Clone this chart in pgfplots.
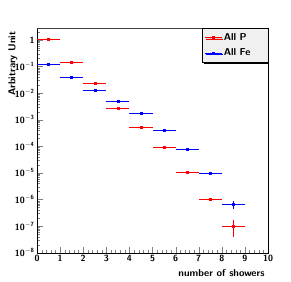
\documentclass[border=0pt]{standalone}
\usepackage{pgfplots}
\pgfplotsset{compat=1.18}
\usetikzlibrary{shadows}
\begin{document}
\begin{tikzpicture}[x=1pt,y=1pt]
\path[use as bounding box] (0,0) rectangle (291,281);
\begin{axis}[
  at={(37pt,28.3pt)}, anchor=south west,
  scale only axis, width=231pt, height=224.7pt,
  xmin=0, xmax=10, ymode=log, ymin=1e-8, ymax=2.8,
  xtick={0,1,2,3,4,5,6,7,8,9,10},
  minor x tick num=4,
  ytick={1e-8,1e-7,1e-6,1e-5,1e-4,1e-3,1e-2,1e-1,1},
  yticklabels={10\textsuperscript{$-$8},10\textsuperscript{$-$7},10\textsuperscript{$-$6},10\textsuperscript{$-$5},10\textsuperscript{$-$4},10\textsuperscript{$-$3},10\textsuperscript{$-$2},10\textsuperscript{$-$1},1},
  minor ytick={2e-8,3e-8,4e-8,5e-8,6e-8,7e-8,8e-8,9e-8,
    2e-7,3e-7,4e-7,5e-7,6e-7,7e-7,8e-7,9e-7,
    2e-6,3e-6,4e-6,5e-6,6e-6,7e-6,8e-6,9e-6,
    2e-5,3e-5,4e-5,5e-5,6e-5,7e-5,8e-5,9e-5,
    2e-4,3e-4,4e-4,5e-4,6e-4,7e-4,8e-4,9e-4,
    2e-3,3e-3,4e-3,5e-3,6e-3,7e-3,8e-3,9e-3,
    2e-2,3e-2,4e-2,5e-2,6e-2,7e-2,8e-2,9e-2,
    2e-1,3e-1,4e-1,5e-1,6e-1,7e-1,8e-1,9e-1,2},
  /pgf/number format/assume math mode=true,
  xticklabel style={font=\sffamily\bfseries\fontsize{9}{10}\selectfont, yshift=1pt},
  yticklabel style={font=\sffamily\bfseries\fontsize{9}{10}\selectfont, xshift=1pt},
  tick pos=left, tick align=inside,
  major tick length=6pt, minor tick length=3pt,
  xlabel={number of showers},
  ylabel={Arbitrary Unit},
  xlabel style={font=\sffamily\bfseries\fontsize{10}{12}\selectfont, at={(rel axis cs:1,0)}, anchor=north east, yshift=-13pt},
  ylabel style={font=\sffamily\bfseries\fontsize{10}{12}\selectfont, at={(axis description cs:-0.104,1)}, anchor=east},
  legend style={at={(rel axis cs:1,1)}, anchor=north east, fill=gray!12,
    font=\sffamily\bfseries\fontsize{10}{12}\selectfont, drop shadow={shadow xshift=1.5pt, shadow yshift=-1.5pt, fill=black, opacity=1},
    inner xsep=2pt, inner ysep=3pt, row sep=3pt, text width=40pt, cells={anchor=west}},
  legend image post style={sharp plot},
]
\addplot[red, only marks, mark=square*, mark size=1pt,
  error bars/.cd, x dir=both, x explicit, y dir=both, y explicit, error mark=none]
  coordinates {
  (-5,1) +- (0.5,0)
  (0.5,1.05) +- (0.5,0)
  (1.5,0.139) +- (0.5,0)
  (2.5,0.0246) +- (0.5,0)
  (3.5,0.00266) +- (0.5,0)
  (4.5,0.00051) +- (0.5,0)
  (5.5,9.1e-5) +- (0.5,0)
  (6.5,1.1e-5) +- (0.5,0)
  (7.5,1.04e-6) +- (0.5,0.05e-6)
  (8.5,1.03e-7) +- (0.5,0.64e-7)
  };
\addlegendentry{All P}
\addplot[blue, only marks, mark=square*, mark size=1pt,
  error bars/.cd, x dir=both, x explicit, y dir=both, y explicit, error mark=none]
  coordinates {
  (-5,1) +- (0.5,0)
  (0.5,0.123) +- (0.5,0)
  (1.5,0.038) +- (0.5,0)
  (2.5,0.0134) +- (0.5,0)
  (3.5,0.0049) +- (0.5,0)
  (4.5,0.0017) +- (0.5,0)
  (5.5,4.2e-4) +- (0.5,0)
  (6.5,7.6e-5) +- (0.5,0)
  (7.5,1.0e-5) +- (0.5,0)
  (8.5,6.7e-7) +- (0.5,0.23e-6)
  };
\addlegendentry{All Fe}
\draw[black!75, line width=1.6pt] (rel axis cs:0,1) -- (rel axis cs:1,1);
\end{axis}
\end{tikzpicture}
\end{document}
